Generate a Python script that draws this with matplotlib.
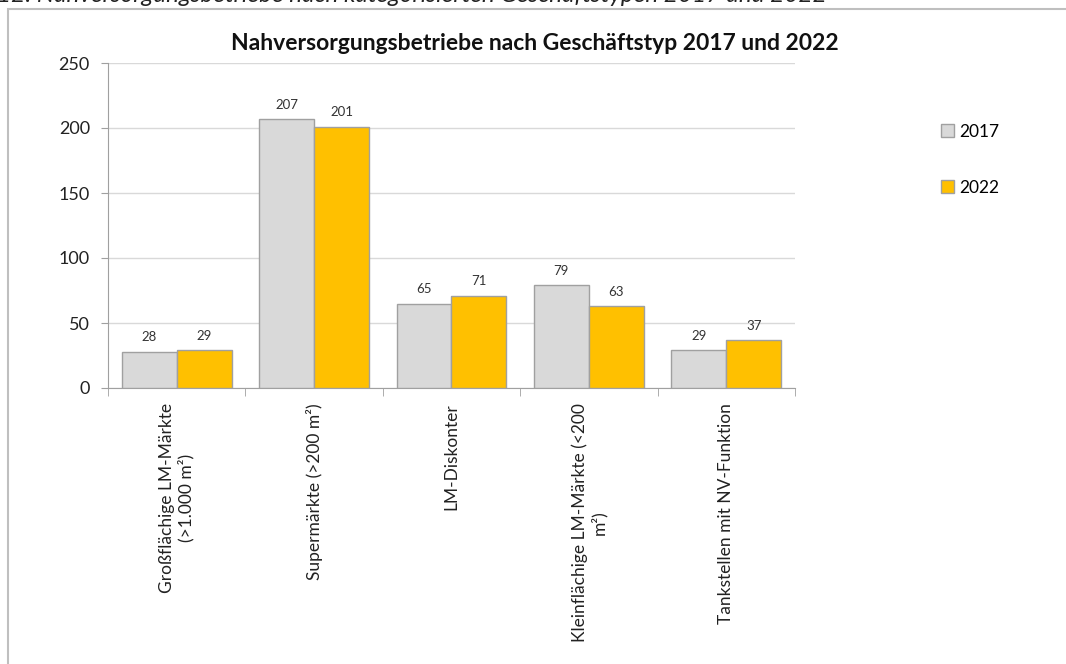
import matplotlib.pyplot as plt
import matplotlib.patches as mpatches
import numpy as np

plt.rcParams['font.family'] = ['Lato', 'DejaVu Sans']

categories = ['Großflächige LM-Märkte\n(>1.000 m²)', 'Supermärkte (>200 m²)', 'LM-Diskonter',
              'Kleinflächige LM-Märkte (<200\nm²)', 'Tankstellen mit NV-Funktion']
werte_2017 = [28, 207, 65, 79, 29]
werte_2022 = [29, 201, 71, 63, 37]
jahre = ['2017', '2022']
farben = ['#d9d9d9', '#ffc000']

fig = plt.figure(figsize=(10.66, 6.64), dpi=100)
W, H = 1066, 664

# Rahmen um das Diagramm (unten/rechts abgeschnitten)
fig.add_artist(mpatches.Rectangle((8 / W, -0.1), 1.2, 1.1 - 9 / H, transform=fig.transFigure,
                                  fill=False, edgecolor='#bfbfbf', linewidth=1.5))
# abgeschnittene Bildunterschrift
fig.text(-3 / W, 1 - 2 / H, '12: Nahversorgungsbetriebe nach kategorisierten Geschäftstypen 2017 und 2022',
         fontsize=17.5, style='italic', ha='left', va='baseline', color='#222222')

ax = fig.add_axes([108 / W, 276 / H, 687 / W, 325 / H])
x = np.arange(len(categories))
b = 0.4
bars1 = ax.bar(x - b / 2, werte_2017, b, color=farben[0], edgecolor='#a0a0a0', linewidth=1, label=jahre[0], zorder=3)
bars2 = ax.bar(x + b / 2, werte_2022, b, color=farben[1], edgecolor='#a0a0a0', linewidth=1, label=jahre[1], zorder=3)
for bars in (bars1, bars2):
    for r in bars:
        ax.annotate(str(int(r.get_height())), (r.get_x() + r.get_width() / 2, r.get_height()),
                    xytext=(0, 6), textcoords='offset points', ha='center', va='bottom',
                    fontsize=9.5, color='#333333')

ax.set_xlim(-0.5, len(categories) - 0.5)
ax.set_ylim(0, 250)
ax.set_yticks(np.arange(0, 251, 50))
ax.yaxis.grid(True, color='#d9d9d9', linewidth=1, zorder=0)
ax.tick_params(axis='y', labelsize=13, length=5, color='#a0a0a0', labelcolor='#222222', pad=8)

ax.set_xticks(x)
ax.set_xticklabels(categories, rotation=90, fontsize=12.5, ha='center', va='top', color='#222222',
                   multialignment='center')
ax.tick_params(axis='x', which='major', length=0, pad=11)
ax.set_xticks(np.arange(-0.5, len(categories)), minor=True)
ax.tick_params(axis='x', which='minor', length=6, color='#a0a0a0')

for s in ['top', 'right']:
    ax.spines[s].set_visible(False)
for s in ['left', 'bottom']:
    ax.spines[s].set_color('#a0a0a0')

fig.text(535 / W, 1 - 43 / H, 'Nahversorgungsbetriebe nach Geschäftstyp 2017 und 2022',
         fontsize=16.5, fontweight='bold', ha='center', va='center', color='#111111')

fig.legend(handles=[bars1, bars2], labels=jahre, loc='upper left', bbox_to_anchor=(932 / W, 1 - 115 / H),
           frameon=False, fontsize=12.5, labelspacing=2.3, handlelength=0.75, handleheight=0.75,
           handletextpad=0.3, borderpad=0)

fig.savefig('out.png', dpi=100)
